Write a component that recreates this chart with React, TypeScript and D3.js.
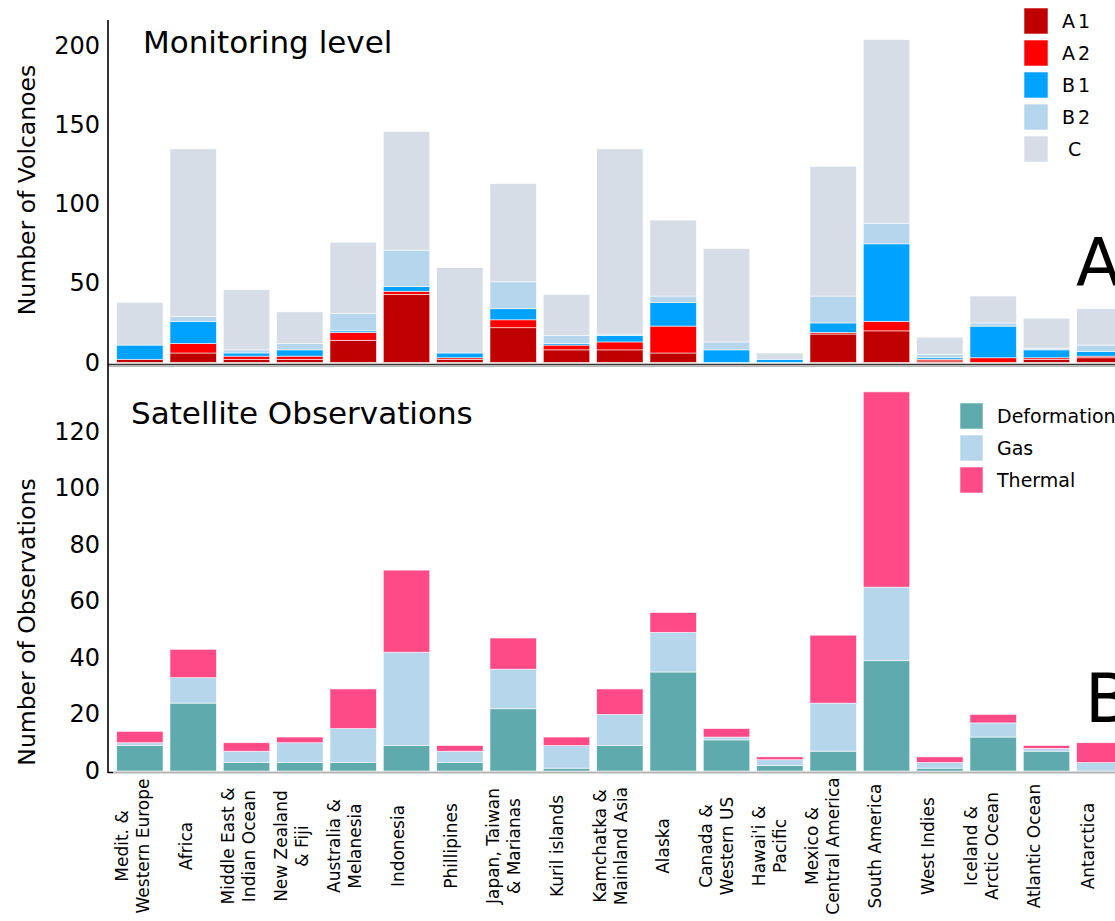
import React from 'react';
import * as d3 from 'd3';

const categories = [
  "Medit. &\nWestern Europe", "Africa", "Middle East &\nIndian Ocean", "New Zealand\n& Fiji",
  "Australia &\nMelanesia", "Indonesia", "Phillipines", "Japan, Taiwan\n& Marianas", "Kuril islands",
  "Kamchatka &\nMainland Asia", "Alaska", "Canada &\nWestern US", "Hawai'i &\nPacific",
  "Mexico &\nCentral America", "South America", "West Indies", "Iceland &\nArctic Ocean",
  "Atlantic Ocean", "Antarctica"
];

const levelKeys = ["A1", "A2", "B1", "B2", "C"];
const levelA1 = [2, 6, 2, 2, 14, 43, 2, 22, 8, 8, 6, 0, 0, 18, 20, 1, 0, 2, 3];
const levelA2 = [0, 6, 2, 2, 5, 2, 1, 5, 3, 5, 17, 0, 0, 1, 6, 1, 3, 1, 1];
const levelB1 = [9, 14, 2, 4, 1, 3, 3, 7, 1, 4, 15, 8, 2, 6, 49, 1, 20, 5, 3];
const levelB2 = [0, 3, 2, 4, 11, 23, 0, 17, 5, 1, 4, 5, 0, 17, 13, 2, 2, 1, 4];
const levelC = [27, 106, 38, 20, 45, 75, 54, 62, 26, 117, 48, 59, 4, 82, 116, 11, 17, 19, 23];
const levelColors = ["#c00000", "#ff0000", "#00a2ff", "#b6d6ee", "#d6dde7"];
const levelTicks = [0, 50, 100, 150, 200];

const obsKeys = ["Deformation", "Gas", "Thermal"];
const obsDeformation = [9, 24, 3, 3, 3, 9, 3, 22, 1, 9, 35, 11, 2, 7, 39, 1, 12, 7, 0];
const obsGas = [1, 9, 4, 7, 12, 33, 4, 14, 8, 11, 14, 1, 2, 17, 26, 2, 5, 1, 3];
const obsThermal = [4, 10, 3, 2, 14, 29, 2, 11, 3, 9, 7, 3, 1, 24, 69, 2, 3, 1, 7];
const obsColors = ["#5faaad", "#b6d6ec", "#ff4a88"];
const obsTicks = [0, 20, 40, 60, 80, 100, 120];

const W = 1115, H = 921;
const FONT = "'DejaVu Sans', Verdana, sans-serif";

export default function App() {
  const x = d3.scaleBand<string>().domain(categories).range([113.2, 1126.5]).paddingInner(0.13).paddingOuter(0.065);
  const xLab = d3.scalePoint<string>().domain(categories).range([132.5, 1087.5]);
  const yTop = d3.scaleLinear().domain([0, 200]).range([362.5, 46]);
  const yBot = d3.scaleLinear().domain([0, 120]).range([771, 431.5]);

  const levelRows = categories.map((c, i) => ({
    cat: c, A1: levelA1[i], A2: levelA2[i], B1: levelB1[i], B2: levelB2[i], C: levelC[i]
  }));
  const obsRows = categories.map((c, i) => ({
    cat: c, Deformation: obsDeformation[i], Gas: obsGas[i], Thermal: obsThermal[i]
  }));
  const levelStack = d3.stack<any>().keys(levelKeys)(levelRows);
  const obsStack = d3.stack<any>().keys(obsKeys)(obsRows);

  const bw = x.bandwidth();

  return (
    <svg width={W} height={H} style={{ position: 'absolute', left: 0, top: 0, background: '#fff' }}
      fontFamily={FONT}>
      <rect x={0} y={0} width={W} height={H} fill="#fff" />
      {/* top panel bars */}
      {levelStack.map((s, k) => (
        <g key={s.key} fill={levelColors[k]}>
          {s.map((d, i) => (d[1] - d[0] > 0 ?
            <rect key={i} x={x(categories[i])} y={yTop(d[1])} width={bw} height={yTop(d[0]) - yTop(d[1])}
              stroke="#fff" strokeWidth={0.8} strokeOpacity={0.7} /> : null))}
        </g>
      ))}
      {/* bottom panel bars */}
      {obsStack.map((s, k) => (
        <g key={s.key} fill={obsColors[k]}>
          {s.map((d, i) => (d[1] - d[0] > 0 ?
            <rect key={i} x={x(categories[i])} y={yBot(d[1])} width={bw} height={yBot(d[0]) - yBot(d[1])}
              stroke="#fff" strokeWidth={0.8} strokeOpacity={0.7} /> : null))}
        </g>
      ))}

      {/* axes lines */}
      <line x1={108} x2={W} y1={364.5} y2={364.5} stroke="#333" strokeWidth={1.5} />
      <line x1={108} x2={W} y1={366.2} y2={366.2} stroke="#999" strokeWidth={1} />
      <line x1={108} x2={W} y1={772.5} y2={772.5} stroke="#b5b5b5" strokeWidth={2} />
      <line x1={108} x2={108} y1={20} y2={773} stroke="#000" strokeWidth={1.6} />
      <line x1={108} x2={113} y1={772.5} y2={772.5} stroke="#000" strokeWidth={1.2} />

      {/* y tick labels */}
      {levelTicks.map(t => (
        <text key={'t' + t} x={100} y={yTop(t)} textAnchor="end" dominantBaseline="central" fontSize={24}>{t}</text>
      ))}
      {obsTicks.map(t => (
        <text key={'b' + t} x={100} y={yBot(t)} textAnchor="end" dominantBaseline="central" fontSize={24}>{t}</text>
      ))}

      {/* y axis titles */}
      <text transform="translate(27,190) rotate(-90)" textAnchor="middle" dominantBaseline="central" fontSize={23.5}>Number of Volcanoes</text>
      <text transform="translate(27,622) rotate(-90)" textAnchor="middle" dominantBaseline="central" fontSize={23.5}>Number of Observations</text>

      {/* panel titles */}
      <text x={143} y={53} fontSize={31}>Monitoring level</text>
      <text x={131} y={424} fontSize={31}>Satellite Observations</text>
      <text x={1076} y={285} fontSize={65}>A</text>
      <text x={1085} y={722} fontSize={67}>B</text>

      {/* top legend */}
      {levelKeys.map((k, i) => (
        <g key={k}>
          <rect x={1024} y={8 + i * 32} width={24} height={26} fill={levelColors[i]} stroke="#fff" strokeWidth={0.8} strokeOpacity={0.7} />
          <text x={1062} y={21 + i * 32} dominantBaseline="central" fontSize={19} letterSpacing={k === 'C' ? 0 : 3}>{k === 'C' ? '\u00a0C' : k}</text>
        </g>
      ))}

      {/* bottom legend */}
      {obsKeys.map((k, i) => (
        <g key={k}>
          <rect x={960} y={403 + i * 32} width={23} height={26} fill={obsColors[i]} stroke="#fff" strokeWidth={0.8} strokeOpacity={0.7} />
          <text x={997} y={416 + i * 32} dominantBaseline="central" fontSize={19}>{k}</text>
        </g>
      ))}

      {/* x labels */}
      {categories.map(c => {
        const lines = c.split("\n");
        const n = lines.length;
        return (
          <text key={c} transform={`translate(${xLab(c)},846) rotate(-90)`} textAnchor="middle" fontSize={17}>
            {lines.map((l, j) => (
              <tspan key={j} x={0} y={(j - (n - 1) / 2) * 21} dominantBaseline="central">{l}</tspan>
            ))}
          </text>
        );
      })}
    </svg>
  );
}
